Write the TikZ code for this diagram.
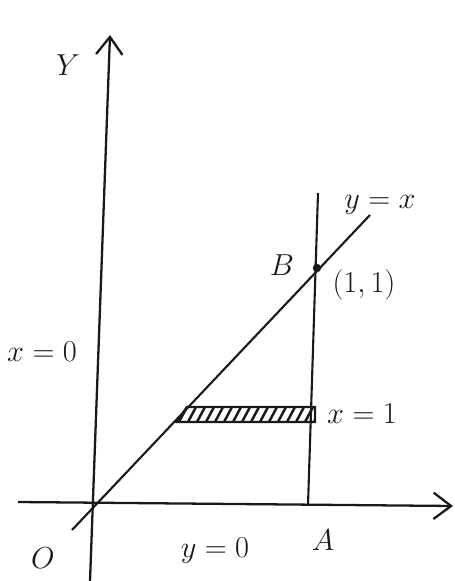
\documentclass[tikz,border=0pt]{standalone}
\usepackage{amsmath}
\usetikzlibrary{arrows.meta}
\definecolor{inkgray}{RGB}{25,25,25}

\begin{document}
\begin{tikzpicture}[x=0.02cm, y=-0.02cm,
  axis/.style={line width=1.3pt, draw=inkgray, -{Straight Barb[length=10pt, width=15pt, line width=1.3pt]}},
  curve/.style={line width=1.2pt, draw=inkgray},
  hatch/.style={line width=1.4pt, draw=inkgray},
  lbl/.style={font=\LARGE, text=inkgray, inner sep=1pt}
]
\useasboundingbox[fill=white] (0,0) rectangle (455,581);

%--- Points ---
\coordinate (Ybot) at (90,581);
\coordinate (Ytop) at (110,35);
\coordinate (Xleft) at (18,502);
\coordinate (Xright) at (453,506);
\coordinate (Lstart) at (72,530);
\coordinate (Lend) at (370,215);
\coordinate (Vtop) at (318,193);
\coordinate (Vbot) at (308,505);
\coordinate (S1) at (177,422);
\coordinate (S2) at (187,407);
\coordinate (S3) at (315,407);
\coordinate (S4) at (315,422);

%--- Axes ---
\draw[axis] (Ybot) -- (Ytop);
\draw[axis] (Xleft) -- (Xright);

%--- Lines y=x and x=1 ---
\draw[curve] (Lstart) -- (Lend);
\draw[curve] (Vtop) -- (Vbot);
\fill[inkgray] (317,268) circle (2.4pt);

%--- Strip ---
\draw[hatch] (S1) -- (S2) -- (S3) -- (S4) -- cycle;
\begin{scope}
  \clip (S1) -- (S2) -- (S3) -- (S4) -- cycle;
  \foreach \i in {170,179,...,320} {
    \draw[hatch] (\i,422) -- (\i+8,407);
  }
\end{scope}

%--- Labels ---
\node[lbl] (ylab) at (68,65) {$Y$};
\node[lbl] (eqline) at (380,205) {$y=x$};
\node[lbl] (B) at (282,265) {$B$};
\node[lbl] (pt) at (364,285) {$(1,1)$};
\node[lbl] (eqx0) at (42,352) {$x=0$};
\node[lbl] (eqx1) at (362,414) {$x=1$};
\node[lbl] (O) at (43,558) {$O$};
\node[lbl] (eqy0) at (215,551) {$y=0$};
\node[lbl] (A) at (323,540) {$A$};
\end{tikzpicture}
\end{document}
